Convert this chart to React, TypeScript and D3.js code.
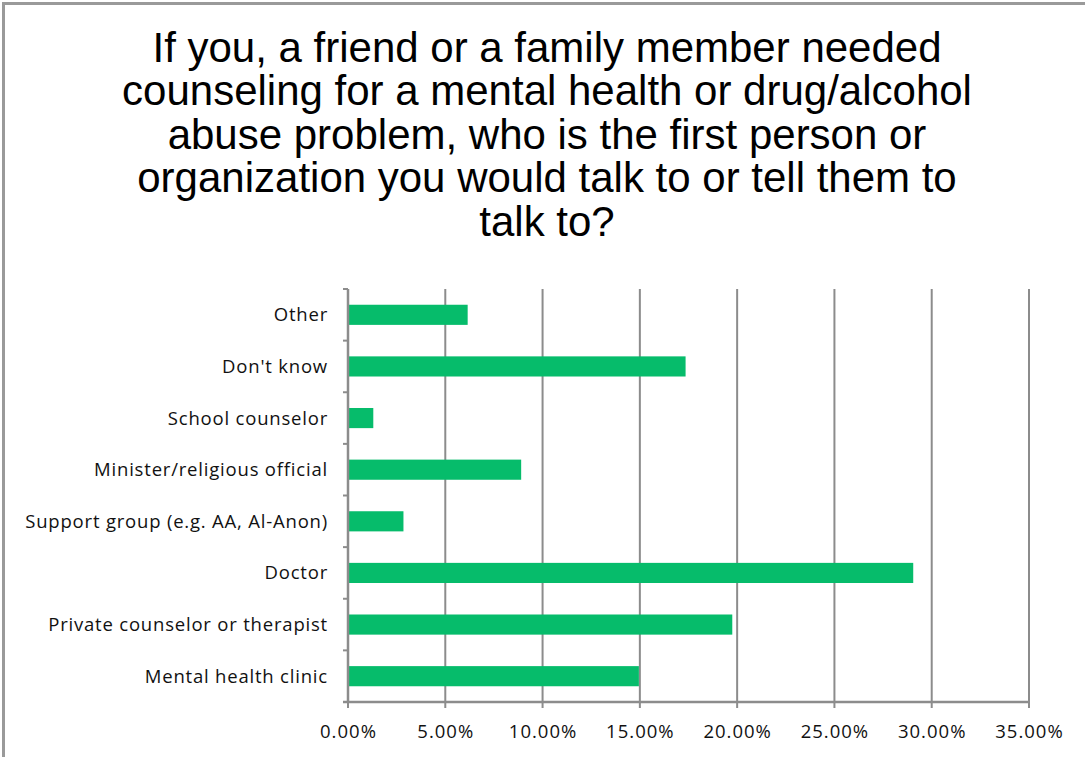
import React from "react";
import * as d3 from "d3";

// Survey responses, top of chart first
const categories = [
  "Other",
  "Don't know",
  "School counselor",
  "Minister/religious official",
  "Support group (e.g. AA, Al-Anon)",
  "Doctor",
  "Private counselor or therapist",
  "Mental health clinic",
];
const shares = [6.15, 17.35, 1.3, 8.9, 2.85, 29.05, 19.75, 14.95];
const xTicks = [0, 5, 10, 15, 20, 25, 30, 35];
const titleLines = [
  "If you, a friend or a family member needed",
  "counseling for a mental health or drug/alcohol",
  "abuse problem, who is the first person or",
  "organization you would talk to or tell them to",
  "talk to?",
];

const W = 1085;
const H = 757;
const M = { left: 348, right: 56, top: 289, bottom: 55 };

export default function App() {
  const x = d3.scaleLinear().domain([0, 35]).range([M.left, W - M.right]);
  const y = d3
    .scaleBand<string>()
    .domain(categories)
    .range([M.top, H - M.bottom])
    .paddingInner(0.61)
    .paddingOuter(0.305);
  const step = y.step();
  const bottom = H - M.bottom;
  const labelFont = "'Open Sans', 'DejaVu Sans', sans-serif";

  return (
    <svg
      width={W}
      height={H}
      style={{ position: "absolute", left: 0, top: 0, background: "#fff" }}
    >
      <rect x={3.5} y={3.5} width={W + 10} height={H + 10} fill="#fff" stroke="#9a9a9a" strokeWidth={3} />

      <g fontFamily="'Liberation Sans', Arial, sans-serif" fontSize={42} fill="#000" textAnchor="middle">
        {titleLines.map((t, i) => (
          <text key={i} x={547} y={62 + i * 43.4}>
            {t}
          </text>
        ))}
      </g>

      {/* vertical gridlines */}
      {xTicks.slice(1).map((t) => (
        <line key={t} x1={x(t)} x2={x(t)} y1={M.top} y2={bottom} stroke="#8c8c8c" strokeWidth={2} />
      ))}

      {/* bars */}
      {categories.map((c, i) => (
        <rect
          key={c}
          x={x(0)}
          y={y(c)}
          width={x(shares[i]) - x(0)}
          height={y.bandwidth()}
          fill="#06bc6b"
        />
      ))}

      {/* y axis with category ticks */}
      <line x1={x(0)} x2={x(0)} y1={M.top} y2={bottom} stroke="#8c8c8c" strokeWidth={2.5} />
      {d3.range(categories.length + 1).map((i) => (
        <line
          key={i}
          x1={x(0) - 5}
          x2={x(0)}
          y1={M.top + i * step}
          y2={M.top + i * step}
          stroke="#8c8c8c"
          strokeWidth={2}
        />
      ))}

      {/* x axis */}
      <line x1={x(0) - 5} x2={x(35)} y1={bottom} y2={bottom} stroke="#8c8c8c" strokeWidth={2.5} />
      {xTicks.map((t) => (
        <line key={t} x1={x(t)} x2={x(t)} y1={bottom} y2={bottom + 6} stroke="#8c8c8c" strokeWidth={2} />
      ))}

      <g fontFamily={labelFont} fontSize={18.5} fill="#111">
        {xTicks.map((t) => (
          <text key={t} x={x(t) + 0.5} y={738} textAnchor="middle" letterSpacing={1}>
            {d3.format(".2f")(t)}%
          </text>
        ))}
        {categories.map((c) => (
          <text
            key={c}
            x={328}
            y={(y(c) ?? 0) + y.bandwidth() / 2}
            dy="0.35em"
            textAnchor="end"
            letterSpacing={0.8}
          >
            {c}
          </text>
        ))}
      </g>
    </svg>
  );
}
